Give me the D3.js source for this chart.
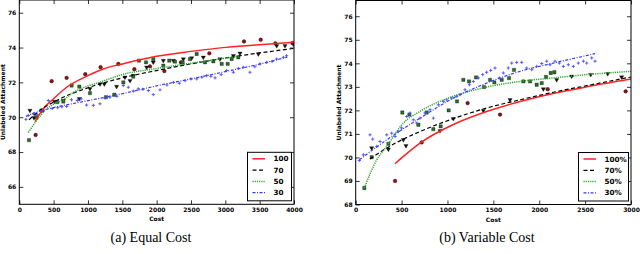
<!DOCTYPE html>
<html>
<head>
<meta charset="utf-8">
<script src="https://cdn.jsdelivr.net/npm/d3@7"></script>
<style>
  body { margin: 0; background: #fff; }
  svg { display: block; }
</style>
</head>
<body>
<script>
'use strict';

// ---- (a) Equal Cost ----
const eqLabels = ['100', '70', '50', '30'];
const eqXTicks = [0, 500, 1000, 1500, 2000, 2500, 3000, 3500, 4000];
const eqYTicks = [66, 68, 70, 72, 74, 76];

const eq100CurveX = [228, 350, 495, 689, 1000, 1223, 1500, 2000, 2500, 3000, 3500, 4000];
const eq100CurveY = [69.75, 70.49, 71.05, 71.72, 72.39, 72.77, 73.06, 73.5, 73.78, 74.01, 74.16, 74.3];
const eq70CurveX = [141, 300, 500, 1000, 1500, 2000, 2500, 3000, 3500, 4000];
const eq70CurveY = [69.85, 70.39, 70.87, 71.69, 72.26, 72.68, 73.06, 73.4, 73.69, 73.95];
const eq50CurveX = [131, 250, 374, 500, 641, 800, 1000, 1127, 1500, 2000, 2500, 3200];
const eq50CurveY = [69.12, 69.8, 70.39, 70.75, 71.0, 71.45, 71.8, 71.95, 72.45, 72.8, 73.1, 73.5];
const eq30CurveX = [97, 300, 500, 1000, 1500, 2000, 2500, 3000, 3500, 3900];
const eq30CurveY = [70.05, 70.35, 70.55, 70.95, 71.35, 71.8, 72.2, 72.62, 73.05, 73.45];

const eq100PtsX = [238, 471, 689, 961, 1184, 1442, 1675, 1903, 2112, 2354, 2767, 3272, 3515, 3728, 3976];
const eq100PtsY = [68.98, 72.07, 72.26, 72.47, 72.87, 73.06, 72.76, 72.92, 72.65, 73.15, 73.67, 74.35, 74.45, 74.24, 74.26];
const eq70PtsX = [155, 214, 326, 510, 641, 874, 1029, 1175, 1238, 1417, 1539, 1612, 1660, 1854, 1951, 2097, 2243, 2388, 2510, 2680, 2922, 3117, 3214, 3481, 3748, 3869, 3990];
const eq70PtsY = [70.39, 69.97, 70.39, 70.9, 70.96, 71.06, 71.63, 71.91, 71.91, 71.76, 72.3, 72.1, 72.39, 72.87, 73.15, 73.25, 73.25, 73.34, 73.4, 73.44, 73.34, 73.53, 73.67, 73.63, 74.1, 74.1, 74.2];
const eq50PtsX = [141, 252, 335, 553, 641, 762, 874, 1029, 1262, 1383, 1515, 1660, 1743, 1845, 1951, 2097, 2184, 2267, 2379, 2485, 2583, 2704, 2825, 2947, 3034, 3092, 3189];
const eq50PtsY = [68.68, 70.0, 70.39, 70.87, 70.9, 71.82, 71.76, 71.38, 71.15, 71.29, 72.0, 72.33, 73.25, 73.15, 73.34, 72.96, 73.25, 73.19, 73.15, 73.34, 73.63, 73.15, 73.21, 73.06, 73.06, 73.34, 73.44];
const eq30PtsX = [97, 131, 204, 260, 330, 422, 480, 560, 620, 689, 760, 845, 900, 980, 1078, 1175, 1250, 1320, 1420, 1515, 1587, 1660, 1733, 1800, 1879, 1951, 2049, 2150, 2243, 2330, 2413, 2500, 2583, 2660, 2728, 2790, 2850, 2940, 3019, 3117, 3190, 3262, 3359, 3430, 3505, 3602, 3680, 3748, 3845, 3893];
const eq30PtsY = [69.88, 70.1, 70.2, 70.15, 70.4, 70.96, 70.5, 70.55, 70.6, 70.62, 71.0, 70.96, 71.05, 70.7, 70.68, 70.77, 71.1, 71.15, 71.2, 71.82, 71.72, 71.5, 71.63, 71.6, 71.53, 71.3, 71.57, 71.85, 72.0, 71.95, 72.1, 72.2, 72.2, 72.3, 72.39, 72.35, 72.26, 72.45, 72.68, 72.58, 72.8, 72.87, 72.58, 72.9, 73.06, 73.15, 73.2, 73.34, 73.44, 73.53];

// ---- (b) Variable Cost ----
const varLabels = ['100%', '70%', '50%', '30%'];
const varXTicks = [0, 500, 1000, 1500, 2000, 2500, 3000];
const varYTicks = [68, 69, 70, 71, 72, 73, 74, 75, 76];

const var100CurveX = [429, 500, 701, 1064, 1427, 1791, 2154, 2517, 3000];
const var100CurveY = [69.73, 69.98, 70.61, 71.4, 71.95, 72.38, 72.72, 73.0, 73.33];
const var70CurveX = [156, 338, 701, 1064, 1427, 1791, 2154, 2517, 3000];
const var70CurveY = [69.93, 70.4, 71.1, 71.65, 72.1, 72.45, 72.77, 73.05, 73.42];
const var50CurveX = [94, 229, 338, 519, 701, 1064, 1427, 1791, 2154, 2517, 3000];
const var50CurveY = [68.7, 69.9, 70.47, 71.46, 71.96, 72.6, 72.99, 73.23, 73.38, 73.52, 73.66];
const var30CurveX = [40, 338, 701, 1064, 1427, 1791, 2154, 2608];
const var30CurveY = [69.9, 70.75, 71.67, 72.52, 73.16, 73.66, 74.01, 74.41];

const var100PtsX = [429, 719, 1220, 1573, 2092, 2942];
const var100PtsY = [69.0, 70.64, 72.31, 71.82, 72.9, 72.81];
const var70PtsX = [174, 356, 519, 548, 919, 1064, 1391, 1682, 2045, 2190, 2354, 2561, 2746, 2898];
const var70PtsY = [70.4, 70.35, 70.75, 70.5, 71.13, 71.65, 71.99, 72.45, 72.91, 73.3, 73.45, 73.52, 73.56, 73.42];
const var50PtsX = [94, 174, 356, 508, 585, 683, 774, 846, 926, 1013, 1104, 1173, 1235, 1311, 1398, 1464, 1511, 1591, 1671, 1725, 1827, 1900, 1972, 2027, 2074, 2125, 2165];
const var50PtsY = [68.7, 70.01, 70.58, 71.91, 71.82, 71.39, 71.91, 71.2, 71.32, 72.0, 72.38, 73.3, 73.23, 73.4, 72.99, 73.3, 73.19, 73.3, 73.37, 73.72, 73.23, 73.23, 73.09, 73.16, 73.42, 73.59, 73.62];
const var30PtsX = [40, 84, 156, 185, 229, 265, 338, 392, 429, 465, 501, 556, 592, 628, 665, 701, 755, 810, 846, 901, 955, 992, 1046, 1100, 1137, 1191, 1239, 1282, 1337, 1384, 1427, 1471, 1518, 1565, 1609, 1663, 1700, 1754, 1809, 1863, 1918, 1972, 2027, 2081, 2117, 2172, 2219, 2263, 2317, 2372, 2426, 2481, 2517, 2572, 2608];
const var30PtsY = [69.87, 70.11, 70.96, 70.78, 70.47, 70.68, 70.96, 71.03, 70.89, 71.1, 71.25, 71.74, 71.89, 71.6, 71.46, 71.67, 71.89, 72.03, 71.67, 72.24, 72.38, 72.45, 72.52, 72.6, 72.67, 72.88, 73.09, 73.23, 73.38, 73.52, 73.62, 73.7, 73.8, 73.38, 73.59, 73.8, 74.01, 74.04, 74.04, 73.8, 73.73, 73.87, 73.99, 74.09, 73.94, 74.09, 74.01, 73.87, 73.94, 73.87, 74.01, 74.09, 74.01, 74.23, 74.09];

// series look, same order as the labels
const styles = [
  { stroke: '#ff2222', width: 1.5, dash: null, marker: 'circle', fill: '#8a1212' },
  { stroke: '#000000', width: 1.2, dash: '4,2.5', marker: 'triangle', fill: '#111111' },
  { stroke: '#2ea82e', width: 1.5, dash: '1.2,1', marker: 'square', fill: '#2b6b2b' },
  { stroke: '#3a3aff', width: 1.2, dash: '3,1.5,1,1.5', marker: 'plus', fill: '#4d4dff' }
];

const svg = d3.select('body').append('svg')
  .attr('width', 640)
  .attr('height', 254);

const zip = (xs, ys) => xs.map((x, i) => ({ x: x, y: ys[i] }));

function drawPanel(p) {
  const x = d3.scaleLinear().domain(p.xDomain).range([p.left, p.right]);
  const y = d3.scaleLinear().domain(p.yDomain).range([p.bottom, p.top]);
  const g = svg.append('g');

  g.append('clipPath').attr('id', p.id + '-clip')
    .append('rect')
    .attr('x', p.left).attr('y', p.top)
    .attr('width', p.right - p.left).attr('height', p.bottom - p.top);

  const plot = g.append('g').attr('clip-path', 'url(#' + p.id + '-clip)');

  // scatter points first, fitted curves over them
  p.points.forEach((pts, i) => {
    const s = styles[i];
    const data = zip(pts[0], pts[1]);
    if (s.marker === 'plus') {
      plot.append('g')
        .attr('stroke', s.fill)
        .attr('stroke-width', 0.9)
        .selectAll('path')
        .data(data)
        .join('path')
        .attr('d', d => {
          const cx = x(d.x), cy = y(d.y), h = 1.6;
          return `M${cx - h},${cy}H${cx + h}M${cx},${cy - h}V${cy + h}`;
        });
    } else {
      const type = s.marker === 'circle' ? d3.symbolCircle
        : s.marker === 'square' ? d3.symbolSquare : d3.symbolTriangle;
      const size = s.marker === 'circle' ? 11 : s.marker === 'square' ? 11 : 8;
      plot.append('g')
        .selectAll('path')
        .data(data)
        .join('path')
        .attr('d', d3.symbol().type(type).size(size))
        .attr('transform', d => `translate(${x(d.x)},${y(d.y)})` + (s.marker === 'triangle' ? ' rotate(180)' : ''))
        .attr('fill', s.fill)
        .attr('stroke', '#000')
        .attr('stroke-width', 0.3);
    }
  });

  const line = d3.line()
    .x(d => x(d.x))
    .y(d => y(d.y))
    .curve(d3.curveMonotoneX);

  p.curves.forEach((c, i) => {
    const s = styles[i];
    plot.append('path')
      .datum(zip(c[0], c[1]))
      .attr('d', line)
      .attr('fill', 'none')
      .attr('stroke', s.stroke)
      .attr('stroke-width', s.width)
      .attr('stroke-dasharray', s.dash);
  });

  // axes with inward ticks on all four sides
  const tickFont = g => g.selectAll('text')
    .attr('font-family', 'DejaVu Sans')
    .attr('font-weight', 'bold')
    .attr('font-size', 6)
    .attr('fill', '#000');

  g.append('g')
    .attr('transform', `translate(0,${p.bottom})`)
    .call(d3.axisBottom(x).tickValues(p.xTicks).tickSize(-4).tickPadding(3.5).tickFormat(d3.format('d')))
    .call(a => a.select('.domain').remove())
    .call(tickFont);

  g.append('g')
    .attr('transform', `translate(0,${p.top})`)
    .call(d3.axisTop(x).tickValues(p.xTicks).tickSize(-4).tickFormat(''))
    .call(a => a.select('.domain').remove());

  g.append('g')
    .attr('transform', `translate(${p.left},0)`)
    .call(d3.axisLeft(y).tickValues(p.yTicks).tickSize(-4).tickPadding(3).tickFormat(d3.format('d')))
    .call(a => a.select('.domain').remove())
    .call(tickFont);

  g.append('g')
    .attr('transform', `translate(${p.right},0)`)
    .call(d3.axisRight(y).tickValues(p.yTicks).tickSize(-4).tickFormat(''))
    .call(a => a.select('.domain').remove());

  g.selectAll('.tick line').attr('stroke', '#000').attr('stroke-width', 0.8);

  g.append('rect')
    .attr('x', p.left).attr('y', p.top)
    .attr('width', p.right - p.left).attr('height', p.bottom - p.top)
    .attr('fill', 'none')
    .attr('stroke', '#000')
    .attr('stroke-width', 1);

  // axis titles
  g.append('text')
    .attr('x', (p.left + p.right) / 2)
    .attr('y', p.bottom + 17)
    .attr('text-anchor', 'middle')
    .attr('font-family', 'DejaVu Sans')
    .attr('font-weight', 'bold')
    .attr('font-size', 6)
    .text('Cost');

  g.append('text')
    .attr('transform', `translate(${p.yTitleX},${(p.top + p.bottom) / 2}) rotate(-90)`)
    .attr('text-anchor', 'middle')
    .attr('font-family', 'DejaVu Sans')
    .attr('font-weight', 'bold')
    .attr('font-size', 6)
    .text('Unlabeled Attachment');

  // legend, lower right
  const boxRight = p.right - 2.5;
  const boxBottom = p.bottom - 3.5;
  const boxTop = boxBottom - 48.5;
  const boxLeft = boxRight - p.legendWidth;
  const leg = g.append('g');
  leg.append('rect')
    .attr('x', boxLeft).attr('y', boxTop)
    .attr('width', p.legendWidth).attr('height', 48.5)
    .attr('fill', '#fff')
    .attr('stroke', '#000')
    .attr('stroke-width', 1);

  p.labels.forEach((lab, i) => {
    const s = styles[i];
    const ry = boxTop + 6.5 + i * 11.3;
    leg.append('line')
      .attr('x1', boxLeft + 5).attr('x2', boxLeft + 17.5)
      .attr('y1', ry).attr('y2', ry)
      .attr('stroke', s.stroke)
      .attr('stroke-width', s.width)
      .attr('stroke-dasharray', s.dash);
    leg.append('text')
      .attr('x', boxLeft + 26)
      .attr('y', ry)
      .attr('dy', '0.35em')
      .attr('font-family', 'DejaVu Sans')
      .attr('font-weight', 'bold')
      .attr('font-size', 7.2)
      .text(lab);
  });

  // sub caption
  svg.append('text')
    .attr('x', p.captionX)
    .attr('y', 242)
    .attr('text-anchor', 'middle')
    .attr('font-family', 'Liberation Serif')
    .attr('font-size', 14)
    .text(p.caption);
}

drawPanel({
  id: 'eq',
  left: 19.3, right: 294, top: 0, bottom: 204.3,
  xDomain: [0, 4000], yDomain: [65, 76.73],
  xTicks: eqXTicks, yTicks: eqYTicks,
  yTitleX: 5,
  labels: eqLabels, legendWidth: 44,
  curves: [[eq100CurveX, eq100CurveY], [eq70CurveX, eq70CurveY], [eq50CurveX, eq50CurveY], [eq30CurveX, eq30CurveY]],
  points: [[eq100PtsX, eq100PtsY], [eq70PtsX, eq70PtsY], [eq50PtsX, eq50PtsY], [eq30PtsX, eq30PtsY]],
  caption: '(a) Equal Cost', captionX: 151
});

drawPanel({
  id: 'var',
  left: 355.7, right: 631, top: 0.5, bottom: 204.5,
  xDomain: [0, 3000], yDomain: [68, 76.67],
  xTicks: varXTicks, yTicks: varYTicks,
  yTitleX: 341,
  labels: varLabels, legendWidth: 50,
  curves: [[var100CurveX, var100CurveY], [var70CurveX, var70CurveY], [var50CurveX, var50CurveY], [var30CurveX, var30CurveY]],
  points: [[var100PtsX, var100PtsY], [var70PtsX, var70PtsY], [var50PtsX, var50PtsY], [var30PtsX, var30PtsY]],
  caption: '(b) Variable Cost', captionX: 487
});
</script>
</body>
</html>
